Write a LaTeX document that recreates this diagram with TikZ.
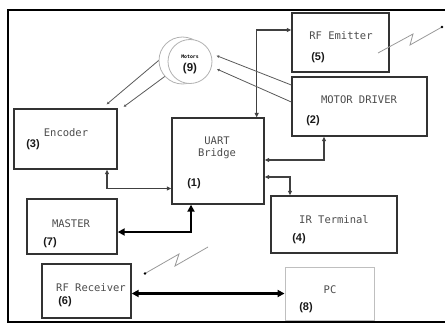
\documentclass[tikz,border=0pt]{standalone}
\usepackage{fontspec}
\setmainfont{Liberation Sans}
\newfontfamily\monof{DejaVu Sans Mono}
\usetikzlibrary{arrows.meta,calc}
\begin{document}
\begin{tikzpicture}[x=1pt,y=-1pt,
  blk/.style={draw=black!80,line width=1.4pt,fill=white,inner sep=0pt},
  pcblk/.style={draw=black!25,line width=0.9pt,fill=white,inner sep=0pt},
  txt/.style={inner sep=0pt,font=\monof\fontsize{10.5}{12}\selectfont,text=black!70},
  num/.style={inner sep=0pt,font=\bfseries\fontsize{11}{12}\selectfont,text=black!90},
  lnk/.style={draw=black!75,line width=1.3pt,{Triangle[length=4.5pt,width=4pt]}-{Triangle[length=4.5pt,width=4pt]}},
  thk/.style={draw=black,line width=2.6pt,{Triangle[length=7pt,width=7pt]}-{Triangle[length=7pt,width=7pt]}},
  thn/.style={draw=black!65,line width=0.8pt,-{Triangle[length=2.5pt,width=2.5pt]}},
  wave/.style={draw=black!40,line width=0.8pt},
]
\useasboundingbox (0,0) rectangle (445,324);
% frame
\draw[line width=2pt,black] (447,9.5) -- (7.5,9.5) -- (7.5,321.5) -- (447,321.5);

% motors
\node[circle,draw=black!30,line width=0.8pt,fill=white,minimum size=47pt,inner sep=0pt] (motb) at (182.5,60.5) {};
\node[circle,draw=black!30,line width=0.8pt,fill=white,minimum size=44pt,inner sep=0pt] (motf) at (190,61.5) {};
\node[inner sep=0pt,font=\monof\bfseries\fontsize{4.8}{5}\selectfont] (mott) at (190,57) {Motors};
\node[num,font=\bfseries\fontsize{11.5}{12}\selectfont] (mot9) at (190,68.5) {(9)};

% boxes
\node[blk,minimum width=103pt,minimum height=60pt] (enc) at (65.5,139) {};
\node[blk,minimum width=92pt,minimum height=86pt] (uart) at (218,161) {};
\node[blk,minimum width=97pt,minimum height=59pt] (emit) at (340.5,42.5) {};
\node[blk,minimum width=135pt,minimum height=59pt] (mdrv) at (359.5,106.5) {};
\node[blk,minimum width=126pt,minimum height=57pt] (ir) at (334,224.5) {};
\node[pcblk,minimum width=89pt,minimum height=53pt] (pc) at (329.5,293.5) {};
\node[blk,minimum width=90pt,minimum height=55pt] (master) at (72,226.5) {};
\node[blk,minimum width=89pt,minimum height=54pt] (rx) at (86.5,291) {};

% texts
\node[txt] (tenc) at (66,133) {Encoder};
\node[num] (nenc) at (33,145) {(3)};
\node[txt] (tuart1) at (217,141) {UART};
\node[txt] (tuart2) at (217,154) {Bridge};
\node[num] (nuart) at (194,184) {(1)};
\node[txt] (temit) at (341,36) {RF Emitter};
\node[num] (nemit) at (318,58) {(5)};
\node[txt] (tmdrv) at (359,100) {MOTOR DRIVER};
\node[num] (nmdrv) at (313,121) {(2)};
\node[txt] (tir) at (334,220) {IR Terminal};
\node[num] (nir) at (299,239) {(4)};
\node[txt] (tpc) at (330,290) {PC};
\node[num] (npc) at (306,308) {(8)};
\node[txt] (tmaster) at (71,224) {MASTER};
\node[num] (nmaster) at (50,243) {(7)};
\node[txt] (trx) at (91,288) {RF Receiver};
\node[num] (nrx) at (65,302) {(6)};

% connectors
\draw[lnk] ([xshift=-8pt]uart.north east) |- ([yshift=12.5pt]emit.west);
\draw[lnk] ([yshift=1pt]uart.east) -| ([xshift=-35.5pt]mdrv.south);
\draw[lnk] ([yshift=-16pt]uart.east) -| ([xshift=-44pt]ir.north);
\draw[lnk] ([xshift=41.5pt]enc.south) |- ([yshift=-27.5pt]uart.west);
\draw[thk] ([yshift=-5.5pt]master.east) -| ([xshift=-27pt]uart.south);
\draw[thk] (rx.east |- pc.west) -- (pc.west);

% motor lines
\draw[thn] (motb.180) -- ([xshift=-11pt,yshift=4pt]enc.north east);
\draw[thn] (motb.222) -- ([xshift=6pt,yshift=1.5pt]enc.north east);
\draw[thn] ([yshift=21.5pt]mdrv.west) -- ([xshift=5pt]motf.15);
\draw[thn] ([yshift=4.5pt]mdrv.west) -- ([xshift=6pt]motf.-20);

% wireless
\coordinate (wE) at (442,27);
\coordinate (wR) at (145,273.5);
\draw[wave] (378,53) -- (413,34) -- (410,45) -- (wE);
\fill[black] (wE) circle (1.3pt);
\draw[wave] (wR) -- (179,254) -- (175,266) -- (208,247);
\fill[black] (wR) circle (1.3pt);
\end{tikzpicture}
\end{document}
